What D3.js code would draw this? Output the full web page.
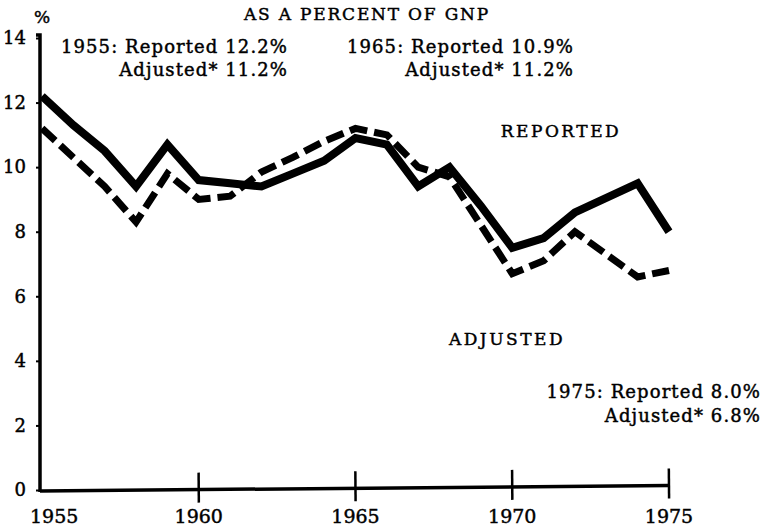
<!DOCTYPE html>
<html>
<head>
<meta charset="utf-8">
<script src="https://cdn.jsdelivr.net/npm/d3@7"></script>
<style>
  html, body { margin: 0; padding: 0; background: #fff; }
  svg { display: block; }
  text { font-family: "DejaVu Serif", "Liberation Serif", serif; fill: #000; stroke: #000; stroke-width: 0.45px; }
</style>
</head>
<body>
<svg id="chart" width="768" height="532"></svg>
<script>
// data
const years    = d3.range(1955, 1976);
const reported = [12.2, 11.3, 10.5, 9.4, 10.7, 9.6, 9.5, 9.4, 9.8, 10.2, 10.9, 10.7, 9.4, 10.0, 8.8, 7.5, 7.8, 8.6, 9.05, 9.5, 8.0];
const adjusted = [11.2, 10.3, 9.4, 8.3, 9.8, 9.0, 9.1, 9.85, 10.3, 10.8, 11.2, 11.0, 10.0, 9.7, 8.2, 6.7, 7.1, 8.0, 7.3, 6.6, 6.8];
const yTicks   = [0, 2, 4, 6, 8, 10, 12, 14];
const xTicks   = [1955, 1960, 1965, 1970, 1975];

const svg = d3.select('#chart');

const x = d3.scaleLinear().domain([1955, 1975]).range([42, 669]);
const y = d3.scaleLinear().domain([0, 14]).range([490, 38]);

// y axis
const yAx = svg.append('g')
    .attr('transform', 'translate(40,0)')
    .call(d3.axisLeft(y).tickValues(yTicks).tickSize(4).tickPadding(10).tickFormat(d3.format('d')));
yAx.select('.domain').attr('stroke-width', 3.5).attr('d', `M-4,${y(14) - 3}H0V${y(0) + 2}`);
yAx.selectAll('.tick line').attr('stroke-width', 2);
yAx.selectAll('.tick text').style('font-size', '18px').style('font-family', '"DejaVu Serif", serif');

// x axis: ticks cross the axis line; the scanned axis sags slightly to the left
const xAx = svg.append('g')
    .attr('transform', `translate(0,${y(0) + 1}) rotate(-0.5, 40, 0)`);
xAx.append('line')
    .attr('x1', 40).attr('x2', x(1975))
    .attr('stroke', '#000').attr('stroke-width', 3.5);
xAx.selectAll('.xt')
    .data(xTicks.slice(1))
    .join('line')
    .attr('class', 'xt')
    .attr('x1', d => x(d)).attr('x2', d => x(d))
    .attr('y1', -17).attr('y2', 13)
    .attr('stroke', '#000').attr('stroke-width', 2.5);

svg.selectAll('.xl')
    .data(xTicks)
    .join('text')
    .attr('class', 'xl')
    .attr('x', (d, i) => i === 0 ? x(d) - 12 : x(d))
    .attr('y', 523)
    .attr('text-anchor', (d, i) => i === 0 ? 'start' : 'middle')
    .style('font-size', '19px')
    .text(d => d);

const line = d3.line().x((d, i) => x(years[i])).y(d => y(d));

svg.append('path')
    .datum(adjusted)
    .attr('d', line)
    .attr('fill', 'none')
    .attr('stroke', '#000')
    .attr('stroke-width', 7)
    .attr('stroke-dasharray', '18,7');

svg.append('path')
    .datum(reported)
    .attr('d', line)
    .attr('fill', 'none')
    .attr('stroke', '#000')
    .attr('stroke-width', 8);

// annotations
const txt = (xx, yy, s, anchor, size, ls) => svg.append('text')
    .attr('x', xx).attr('y', yy)
    .attr('text-anchor', anchor || 'start')
    .style('font-size', (size || 18) + 'px')
    .style('letter-spacing', (ls === undefined ? 1.1 : ls) + 'px')
    .text(s);

txt(42, 23, '%', 'middle', 17, 0);
txt(367, 20, 'AS A PERCENT OF GNP', 'middle', 17, 1.8);
txt(288, 53, '1955: Reported  12.2%', 'end');
txt(288, 76, 'Adjusted* 11.2%', 'end');
txt(574, 53, '1965: Reported  10.9%', 'end');
txt(574, 76, 'Adjusted* 11.2%', 'end');
txt(561, 137, 'REPORTED', 'middle', 17, 2.5);
txt(507, 345, 'ADJUSTED', 'middle', 17, 2.5);
txt(761, 398, '1975: Reported  8.0%', 'end');
txt(761, 422, 'Adjusted* 6.8%', 'end');
</script>
</body>
</html>
